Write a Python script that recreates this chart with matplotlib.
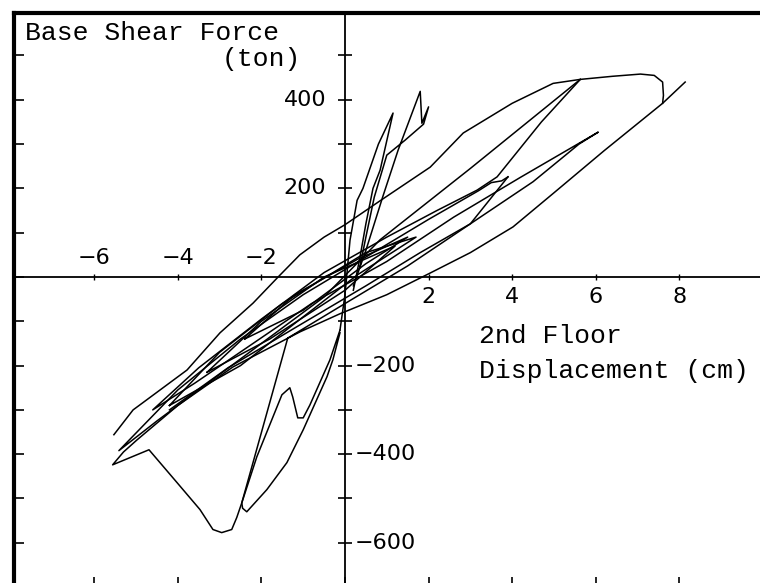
import matplotlib.pyplot as plt

# base shear (ton) vs 2nd floor displacement (cm), traced branch by branch

# loading up to the largest positive excursion
disp_up = [-5.53, -5.07, -4.84, -3.78, -2.99, -2.2, -1.6, -1.08, -0.5, 0.0, 0.84, 2.04, 2.83,
           4.0, 4.98, 5.63, 6.4, 7.07, 7.4, 7.6, 7.62, 7.6]
shear_up = [-356, -300, -284, -210, -126, -59, 0, 50, 90, 118, 172, 248, 325,
            392, 437, 446, 453, 458, 455, 440, 410, 392]

# unloading to the largest negative excursion, then the drop and reload
disp_down = [8.14, 7.6, 6.2, 5.0, 4.02, 3.0, 2.04, 1.0, -0.12, -1.08, -2.68, -4.0,
             -4.98, -5.3, -5.56, -4.69, -4.02, -3.47, -3.16, -2.95, -2.71, -2.59,
             -2.47, -1.37, 0.0, 1.5, 3.0, 3.9]
shear_down = [440, 392, 285, 190, 113, 55, 9, -40, -83, -124, -203, -290,
              -368, -395, -424, -390, -464, -525, -570, -577, -570, -543,
              -510, -138, -60, 25, 120, 226]

# return from the 4 cm peak
disp_p1 = [3.9, 3.75, 3.5, 3.2, 2.0, 0.5, -1.0, -2.5, -4.0, -5.41,
           -4.5, -3.5, -2.5, -1.5, -0.5, 0.84, 3.0, 5.63]
shear_p1 = [226, 217, 213, 195, 130, 45, -40, -140, -255, -392,
            -325, -255, -185, -115, -45, 84, 245, 446]

# unloading from 5.6 cm and the 6 cm cycle
disp_p3 = [5.63, 4.7, 3.64, 3.16, 2.2, 1.0, -0.5, -2.0, -3.5, -4.6, -3.6, -2.2,
           -0.8, 1.0, 2.6, 4.2, 6.06, 5.6, 4.5, 3.0, 1.8, 0.5, -1.2, -2.8, -4.2]
shear_p3 = [446, 350, 226, 196, 150, 90, 10, -95, -205, -300, -240, -150,
            -60, 35, 135, 225, 327, 300, 215, 120, 55, -20, -115, -205, -300]

# lower narrow loop near the origin
disp_lo = [-0.12, -0.29, -0.43, -1.0, -1.39, -1.87, -2.35, -2.45, -2.47, -2.11,
           -1.51, -1.32, -1.25, -1.13, -1.0, -0.84, -0.36, -0.12]
shear_lo = [-126, -187, -225, -345, -419, -480, -530, -522, -510, -406,
            -266, -250, -271, -318, -318, -289, -187, -120]

# steep cycles above the origin
disp_s1 = [-0.12, 0.0, 0.12, 0.29, 0.43, 0.8, 1.15, 0.84, 0.67, 0.5, 0.35, 0.2]
shear_s1 = [-120, -40, 83, 173, 200, 300, 370, 241, 200, 120, 40, -30]
disp_s2 = [0.2, 0.5, 0.9, 1.27, 1.8, 1.84, 2.0, 1.88, 1.44, 1.0, 0.7, 0.5, 0.35]
shear_s2 = [-20, 60, 180, 286, 419, 347, 384, 345, 309, 275, 180, 90, 20]

# small cycles inside the band
disp_i1 = [-2.4, -1.2, 0.3, 1.5, 0.5, -1.0, -2.4]
shear_i1 = [-140, -40, 40, 90, 30, -75, -140]
disp_i2 = [-3.3, -2.0, -0.5, 1.2, 0.0, -1.8, -3.3]
shear_i2 = [-215, -100, 0, 70, -30, -140, -215]
disp_i3 = [-4.2, -3.0, -1.5, 0.5, 1.7, 0.3, -1.0, -2.5, -4.2]
shear_i3 = [-290, -170, -60, 55, 90, 5, -90, -200, -290]

branches = [(disp_up, shear_up), (disp_down, shear_down), (disp_p1, shear_p1),
            (disp_p3, shear_p3), (disp_lo, shear_lo), (disp_s1, shear_s1),
            (disp_s2, shear_s2), (disp_i1, shear_i1), (disp_i2, shear_i2),
            (disp_i3, shear_i3)]

x_ticks = [-6, -4, -2, 2, 4, 6, 8]
y_ticks_left = [400, 200]
y_ticks_right = [-200, -400, -600]

xlim = (-7.92, 10.0)
ylim = (-700, 597)

fig = plt.figure(figsize=(7.6, 5.83), dpi=100)
rect = [14.0 / 760, (583 - 587.1) / 583, (762.9 - 14.0) / 760, (587.1 - 12.5) / 583]

# outer frame with inward ticks
frame = fig.add_axes(rect)
frame.set_xlim(xlim)
frame.set_ylim(ylim)
for side in ['left', 'top', 'right', 'bottom']:
    frame.spines[side].set_linewidth(3.0)
frame.set_xticks(range(-6, 10, 2))
frame.set_yticks(range(-600, 600, 100))
frame.tick_params(direction='in', length=7, width=1.2, labelleft=False, labelbottom=False)

# axes through the origin
ax = fig.add_axes(rect, facecolor='none')
ax.set_xlim(xlim)
ax.set_ylim(ylim)
ax.spines['left'].set_position(('data', 0))
ax.spines['bottom'].set_position(('data', 0))
ax.spines['right'].set_visible(False)
ax.spines['top'].set_visible(False)
for side in ['left', 'bottom']:
    ax.spines[side].set_linewidth(1.3)
ax.set_xticks(x_ticks)
ax.set_yticks(range(-600, 600, 100))
ax.tick_params(axis='y', direction='inout', length=10, width=1.2, labelleft=False)
ax.tick_params(axis='x', direction='inout', length=5, width=1.0, labelbottom=False)

for d, s in branches:
    ax.plot(d, s, color='black', lw=1.1, solid_joinstyle='round')

num_font = dict(family='DejaVu Sans', fontsize=16)
for v in x_ticks:
    if v < 0:
        ax.text(v, 43, '\u2212%d' % -v, ha='center', va='center', **num_font)
    else:
        ax.text(v, -45, '%d' % v, ha='center', va='center', **num_font)
for v in y_ticks_left:
    ax.text(-0.45, v, '%d' % v, ha='right', va='center', **num_font)
for v in y_ticks_right:
    ax.text(0.24, v, '\u2212%d' % -v, ha='left', va='center', **num_font)

lab_font = dict(family='Liberation Mono', fontsize=19)
ax.text(-7.66, 534, 'Base Shear Force', ha='left', va='baseline', **lab_font)
ax.text(-2.95, 476, '(ton)', ha='left', va='baseline', **lab_font)
ax.text(3.21, -149, '2nd Floor', ha='left', va='baseline', **lab_font)
ax.text(3.21, -228, 'Displacement (cm)', ha='left', va='baseline', **lab_font)

fig.savefig('out.png', dpi=100)
